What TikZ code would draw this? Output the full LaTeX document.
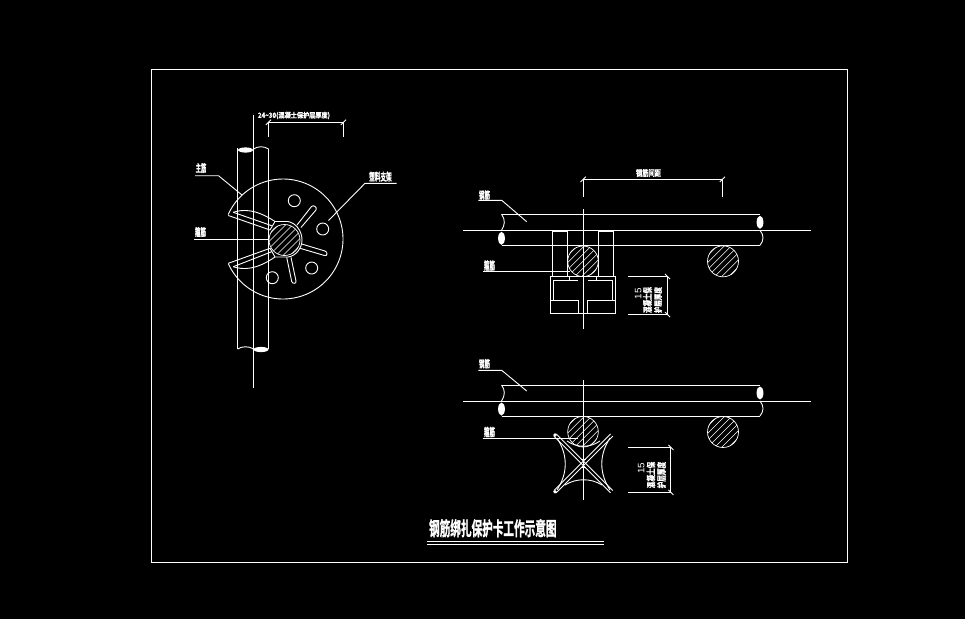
\documentclass[tikz,border=0pt]{standalone}
\usepackage{fontspec}
\usepackage{graphicx}
\setmainfont{Liberation Sans}
\newfontfamily\cjkb[FakeBold=1.5]{Noto Sans CJK SC Bold}
\newcommand{\fitbox}[3]{\resizebox*{#1pt}{#2pt}{\cjkb #3}}
\tikzset{
  ln/.style={draw=white,line width=0.9pt},
  hatchline/.style={draw=white,line width=0.6pt},
  lbl/.style={inner sep=0pt,outer sep=0pt,text=white,anchor=center},
}
% hatched bar section: x, y, r
\newcommand{\barsection}[3]{%
  \begin{scope}
    \clip (#1,#2) circle [radius=#3];
    \foreach \d in {-28,-21,...,28}
      \draw[hatchline] ({#1+\d-20},{#2+20}) -- ({#1+\d+20},{#2-20});
  \end{scope}
  \draw[draw=white,line width=0.7pt] (#1,#2) circle [radius=#3];
}
% horizontal bar with broken ends: y of top line
\newcommand{\rebarrun}[1]{%
  \draw[ln] (463,{#1+16}) -- (811,{#1+16});
  \draw[ln] (501.5,#1) -- (760,#1);
  \draw[ln] (501.5,{#1+31}) -- (760,{#1+31});
  \draw[ln] (501.5,#1) .. controls (505.5,{#1+5}) and (505,{#1+11}) .. (501.5,{#1+16});
  \fill[white] (501.5,{#1+24}) ellipse [x radius=3.4,y radius=6.5];
  \fill[white] (760,{#1+8}) ellipse [x radius=3.4,y radius=6.5];
  \draw[ln] (760,{#1+16}) .. controls (764,{#1+21}) and (764,{#1+26}) .. (760,{#1+31});
}
\begin{document}
\begin{tikzpicture}[x=1pt,y=-1pt]
\useasboundingbox (0,0) rectangle (965,619);
\fill[black] (0,0) rectangle (965,619);
\draw[ln] (151,69) rectangle (847,562);

%% ---------- left view ----------
\draw[ln] (237.7,148) -- (237.7,349);
\draw[ln] (268.6,149) -- (268.6,349);
\draw[ln] (253.5,115) -- (253.5,388);
\fill[white] (245.5,150) ellipse [x radius=7.5,y radius=2.6];
\draw[ln] (253.5,149) .. controls (258,146) and (264,146) .. (268.6,149);
\fill[white] (261,349.5) ellipse [x radius=7.5,y radius=2.6];
\draw[ln] (237.7,349) .. controls (242,346) and (249,346) .. (253.5,349);
% disk
\draw[ln] plot[domain=-156:156,samples=120,smooth] ({283+60*cos(\x)},{239+60*sin(\x)});
% petals
\draw[ln] (228.3,215.5) -- (270,230);
\draw[ln] (233.3,212.3) -- (271.7,225.7);
\draw[ln] (233.3,212.3) .. controls (243,209) and (256,209) .. (275,221.5);
\draw[ln] (228.3,263.3) -- (270,248.3);
\draw[ln] (233.3,266.7) -- (271.7,251.7);
\draw[ln] (233.3,266.7) .. controls (243,270) and (256,270) .. (275,257);
% ring
\draw[ln] (270,230) -- (275,221.5) -- (288,221.5) .. controls (296,223) and (302,231) .. (302,240)
  .. controls (302,248) and (296,256) .. (288,257) -- (275,257) -- (270,248.3);
\barsection{284.5}{240}{15.5}
% slots
\draw[ln] (297,225) -- (311.5,206.5) .. controls (313.5,204.5) and (317.5,207) .. (316,210) -- (301,227.5);
\draw[ln] (301.7,244) -- (325,251) .. controls (328,252) and (327.5,256.5) .. (324.5,255.5) -- (300,248.3);
\draw[ln] (286.7,257.3) -- (291.7,281.5) .. controls (292.5,284) and (296.5,284) .. (296,281) -- (291,257.3);
% holes
\draw[ln] (294.3,200.7) circle [radius=6];
\draw[ln] (322.7,229) circle [radius=6];
\draw[ln] (311.7,268) circle [radius=6];
\draw[ln] (272.3,277.7) circle [radius=6];
% leaders
\node[lbl] (zhujin) at (201,168) {\fitbox{10.5}{10}{主筋}};
\coordinate (zhujinA) at (195,175.7);
\coordinate (zhujinB) at (218.5,175.7);
\coordinate (zhujinC) at (242,195);
\draw[ln] (zhujinA) -- (zhujinB) -- (zhujinC);
\node[lbl] (gujinL) at (200.5,232) {\fitbox{11}{10}{箍筋}};
\coordinate (gujinA) at (194,239);
\coordinate (gujinB) at (269,239);
\draw[ln] (gujinA) -- (gujinB);
\node[lbl] (zhijia) at (380.5,176.7) {\fitbox{22.5}{10}{塑料支架}};
\coordinate (zhijiaA) at (396.7,183.3);
\coordinate (zhijiaB) at (365,183.3);
\coordinate (zhijiaC) at (328.5,220.5);
\draw[ln] (zhijiaA) -- (zhijiaB) -- (zhijiaC);
% dimension
\node[lbl] (dimL) at (294,115.5) {\fitbox{72}{7.5}{24\textasciitilde30(混凝土保护层厚度)}};
\draw[ln] (268.4,122.3) -- (343.4,122.3);
\draw[ln] (268.4,122.3) -- (268.4,137);
\draw[ln] (343.4,122.3) -- (343.4,137);
\draw[ln] (265.8,124.9) -- (271,119.7);
\draw[ln] (340.8,124.9) -- (346,119.7);

%% ---------- middle view ----------
\rebarrun{214.3}
\draw[ln] (552.3,231) rectangle (567.7,276);
\draw[ln] (598.3,231) rectangle (613.7,276);
\barsection{583}{261.3}{15.3}
\barsection{723}{261.3}{15.5}
\draw[ln] (550.3,276.3) rectangle (615.7,313.3);
\draw[ln] (569.3,276.3) -- (569.3,280.7);
\draw[ln] (596.3,276.3) -- (596.3,280.7);
\draw[ln] (577.7,280.7) -- (553.3,280.7) -- (553.3,300);
\draw[ln] (550.3,300) -- (578.7,300) -- (578.7,313.3);
\draw[ln] (588.3,280.7) -- (612.7,280.7) -- (612.7,300);
\draw[ln] (615.7,300) -- (587.3,300) -- (587.3,313.3);
\draw[ln] (583.3,209) -- (583.3,328.7);
% dimension spacing
\node[lbl] (jianju) at (648.5,173) {\fitbox{25}{8}{钢筋间距}};
\draw[ln] (583.3,179.3) -- (722.5,179.3);
\draw[ln] (583.3,179.3) -- (583.3,197);
\draw[ln] (722.5,179.3) -- (722.5,197);
\draw[ln] (580.5,182) -- (585.8,176.8);
\draw[ln] (719.8,182) -- (725,176.8);
% leaders
\node[lbl] (gangA) at (484.5,195) {\fitbox{11}{9.5}{钢筋}};
\coordinate (gangAa) at (478.3,200.3);
\coordinate (gangAb) at (501.7,200.3);
\coordinate (gangAc) at (526.7,221.7);
\draw[ln] (gangAa) -- (gangAb) -- (gangAc);
\node[lbl] (guA) at (489.5,265.5) {\fitbox{11}{10.5}{箍筋}};
\coordinate (guAa) at (483.3,271.3);
\coordinate (guAb) at (570,271.3);
\draw[ln] (guAa) -- (guAb);
% dimension 15
\draw[ln] (628.3,276.3) -- (667.3,276.3);
\draw[ln] (628.3,314.3) -- (667.3,314.3);
\draw[ln] (667.3,276.3) -- (667.3,314.3);
\draw[ln] (665,274) -- (670,279);
\draw[ln] (665,312) -- (670,317);
\node[lbl,rotate=90] (m15) at (638.3,293.7) {\resizebox*{11pt}{6.5pt}{15}};
\node[lbl,rotate=90] (mtxtA) at (647.5,300) {\fitbox{26}{9}{混凝土保}};
\node[lbl,rotate=90] (mtxtB) at (658,300) {\fitbox{26}{8}{护层厚度}};

%% ---------- lower view ----------
\rebarrun{385}
\barsection{583}{431.7}{15.3}
\barsection{723}{432}{15.5}
\draw[ln] (583.3,380) -- (583.3,499.7);
% star
\foreach \s in {-1,1}{
  \draw[ln] ({555+\s*1.1},{435-\s*1.1}) -- ({611.7+\s*1.1},{491.7-\s*1.1});
  \draw[ln] ({611.7+\s*1.1},{435+\s*1.1}) -- ({555+\s*1.1},{491.7+\s*1.1});
}
\draw[ln] (557,438) .. controls (568,455) and (568,473) .. (557,490);
\draw[ln] (610,438) .. controls (599,455) and (599,473) .. (610,490);
\draw[ln] (567,441) .. controls (577,448) and (590,448) .. (600,441);
\draw[ln] (565,485) .. controls (576,478) and (591,478) .. (602,485);
\draw[ln] (580.7,459.3) -- (586,459.3);
\draw[ln] (580.7,467) -- (586,467);
\fill[white] (555,435) circle [radius=1.8];
\fill[white] (555,491.7) circle [radius=1.8];
% leaders
\node[lbl] (gangB) at (484.5,363.7) {\fitbox{11}{9.5}{钢筋}};
\coordinate (gangBa) at (478.3,370.3);
\coordinate (gangBb) at (501.7,370.3);
\coordinate (gangBc) at (526.7,391);
\draw[ln] (gangBa) -- (gangBb) -- (gangBc);
\node[lbl] (guB) at (489.5,432) {\fitbox{11}{10.5}{箍筋}};
\coordinate (guBa) at (483.3,438.3);
\coordinate (guBb) at (578,438.3);
\draw[ln] (guBa) -- (guBb);
% dimension 15
\draw[ln] (628.3,447.3) -- (670.7,447.3);
\draw[ln] (628.3,492.3) -- (670.7,492.3);
\draw[ln] (670.7,447.3) -- (670.7,492.3);
\draw[ln] (668.4,445) -- (673.4,450);
\draw[ln] (668.4,490) -- (673.4,495);
\node[lbl,rotate=90] (l15) at (641.2,468) {\resizebox*{11pt}{6.5pt}{15}};
\node[lbl,rotate=90] (ltxtA) at (651,475) {\fitbox{26.5}{8.5}{混凝土保}};
\node[lbl,rotate=90] (ltxtB) at (661.5,475) {\fitbox{26.5}{9}{护层厚度}};

%% ---------- title ----------
\node[lbl] (title) at (492.8,528.2) {\fitbox{127.5}{18.3}{钢筋绑扎保护卡工作示意图}};
\coordinate (t1a) at (427,541); \coordinate (t1b) at (604,541);
\coordinate (t2a) at (427,544.3); \coordinate (t2b) at (604,544.3);
\draw[ln] (t1a) -- (t1b);
\draw[ln] (t2a) -- (t2b);
\end{tikzpicture}
\end{document}
